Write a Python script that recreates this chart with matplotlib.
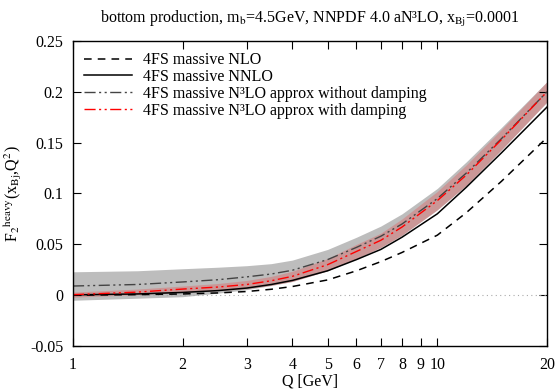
import matplotlib
matplotlib.use("Agg")
import matplotlib.pyplot as plt

plt.rcParams['font.family'] = ['Liberation Serif', 'DejaVu Serif']
plt.rcParams['mathtext.fontset'] = 'stix'

# Q values [GeV]
Q = [1, 1.5, 2, 2.5, 3, 3.5, 4, 5, 6, 7, 8, 10, 12, 15, 20]

# F2 heavy curves
nlo = [0.0, 0.0005, 0.0012, 0.0022, 0.0036, 0.0058, 0.0085, 0.015, 0.024, 0.033, 0.042, 0.059, 0.081, 0.112, 0.155]
nnlo = [0.0003, 0.0012, 0.0027, 0.0045, 0.007, 0.0105, 0.0145, 0.024, 0.035, 0.045, 0.057, 0.080, 0.106, 0.140, 0.185]
n3lo_nodamp = [0.009, 0.0105, 0.013, 0.0152, 0.018, 0.0208, 0.0245, 0.035, 0.047, 0.058, 0.070, 0.095, 0.120, 0.154, 0.200]
n3lo_damp = [0.0005, 0.003, 0.006, 0.008, 0.0105, 0.0142, 0.0185, 0.030, 0.043, 0.054, 0.067, 0.093, 0.118, 0.153, 0.200]

# uncertainty bands
nodamp_lo = [-0.005, -0.003, -0.0015, 0.002, 0.0055, 0.0095, 0.0135, 0.024, 0.036, 0.047, 0.059, 0.084, 0.108, 0.143, 0.190]
nodamp_hi = [0.023, 0.024, 0.026, 0.0275, 0.029, 0.031, 0.0345, 0.045, 0.057, 0.068, 0.080, 0.105, 0.131, 0.165, 0.210]
damp_lo = [-0.002, 0.0005, 0.003, 0.0045, 0.0065, 0.0098, 0.0135, 0.024, 0.036, 0.047, 0.059, 0.084, 0.108, 0.143, 0.190]
damp_hi = [0.003, 0.006, 0.009, 0.0115, 0.0145, 0.0185, 0.0235, 0.036, 0.050, 0.061, 0.075, 0.102, 0.128, 0.163, 0.210]

xticks = [1, 2, 3, 4, 5, 6, 7, 8, 9, 10, 20]
yticks = [-0.05, 0, 0.05, 0.1, 0.15, 0.2, 0.25]
ylabels = ["-0.05", "0", "0.05", "0.1", "0.15", "0.2", "0.25"]

fig = plt.figure(figsize=(5.56, 3.9), dpi=100)
ax = fig.add_axes([0.1313, 0.1128, 0.8525, 0.7821])

ax.fill_between(Q, nodamp_lo, nodamp_hi, color='#bdbdbd', lw=0)
ax.fill_between(Q, damp_lo, damp_hi, color='#e06060', alpha=0.4, lw=0)
ax.axhline(0, color='#aaaaaa', lw=0.8, ls=(0, (1, 3)))

ax.plot(Q, nlo, color='black', lw=1.1, ls=(0, (5, 4)), label='4FS massive NLO')
ax.plot(Q, nnlo, color='black', lw=1.1, label='4FS massive NNLO')
ax.plot(Q, n3lo_nodamp, color='#444444', lw=1.0, ls=(0, (8, 2.5, 1.5, 2.5, 1.5, 2.5)),
        label='4FS massive N³LO approx without damping')
ax.plot(Q, n3lo_damp, color='red', lw=1.0, ls=(0, (8, 2.5, 1.5, 2.5, 1.5, 2.5)),
        label='4FS massive N³LO approx with damping')

ax.set_xscale('log')
ax.set_xlim(1, 20)
ax.set_ylim(-0.05, 0.25)
ax.set_xticks(xticks)
ax.set_xticklabels([str(t) for t in xticks])
ax.xaxis.set_minor_locator(matplotlib.ticker.NullLocator())
ax.set_yticks(yticks)
ax.set_yticklabels(ylabels)
ax.tick_params(direction='in', length=6, width=0.8, top=True, right=True,
               labelsize=11.5)
ax.tick_params(axis='x', pad=8)
ax.tick_params(axis='y', pad=7)
for s in ax.spines.values():
    s.set_linewidth(1.0)

ax.set_xlabel('Q [GeV]', fontsize=11.5, labelpad=0)
ax.set_ylabel(r'F$_2$$^{\mathrm{heavy}}$(x$_{\mathrm{Bj}}$,Q$^2$)', fontsize=11.5, labelpad=4)
ax.set_title(r'bottom production, m$_{\mathrm{b}}$=4.5GeV, NNPDF 4.0 aN³LO, x$_{\mathrm{Bj}}$=0.0001',
             fontsize=11.5, pad=13)

ax.legend(loc='upper left', frameon=False, fontsize=11.5, handlelength=3.0,
          labelspacing=0.05, borderaxespad=0.3, handletextpad=0.7)

fig.savefig('out.png', dpi=100)
